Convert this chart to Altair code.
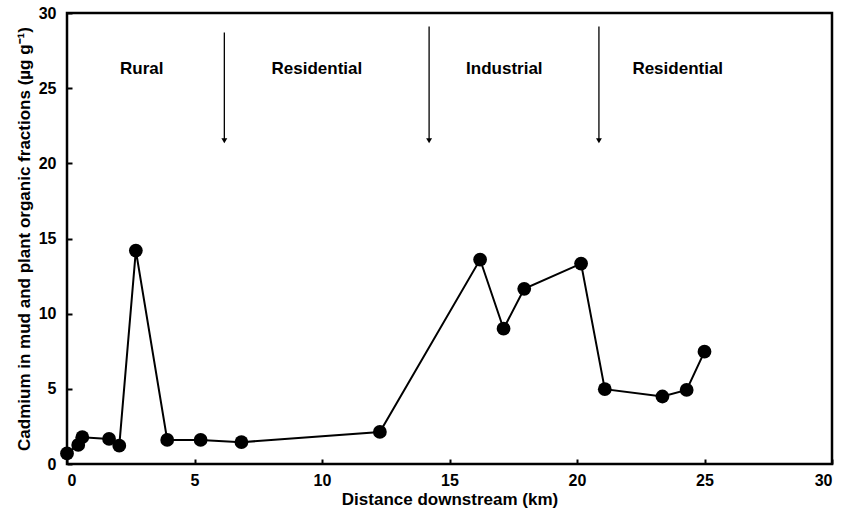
import altair as alt
import pandas as pd

distance_km = [0.0, 0.44, 0.6, 1.65, 2.05, 2.7, 3.93, 5.24, 6.84, 12.27,
               16.2, 17.12, 17.93, 20.16, 21.09, 23.35, 24.3, 25.0]
cadmium = [0.7, 1.27, 1.78, 1.67, 1.22, 14.2, 1.6, 1.6, 1.45, 2.13,
           13.6, 9.0, 11.65, 13.33, 4.98, 4.49, 4.93, 7.47]

zone_labels = ["Rural", "Residential", "Industrial", "Residential"]
zone_x = [2.93, 9.8, 17.15, 23.95]
zone_y = [26.3, 26.3, 26.3, 26.3]

arrow_x = [6.17, 14.2, 20.86]
arrow_top = [28.7, 29.1, 29.1]
arrow_bottom = [21.5, 21.5, 21.5]

FONT = "Liberation Sans"

df = pd.DataFrame({"d": distance_km, "c": cadmium, "order": list(range(len(distance_km)))})
zones = pd.DataFrame({"label": zone_labels, "x": zone_x, "y": zone_y})
arrows = pd.DataFrame({"x": arrow_x, "top": arrow_top, "bottom": arrow_bottom})

xscale = alt.Scale(domain=[0, 30], nice=False, zero=False)
yscale = alt.Scale(domain=[0, 30], nice=False, zero=False)

xaxis = alt.Axis(values=[0, 5, 10, 15, 20, 25, 30], format="d", grid=False, domain=False,
                 offset=-5, tickSize=5, tickWidth=2, tickColor="black",
                 labelPadding=8, labelFont=FONT, labelFontWeight="bold", labelFontSize=16,
                 labelColor="black", title="Distance downstream (km)", titleFont=FONT,
                 titleFontWeight="bold", titleFontSize=17, titleColor="black", titlePadding=3)
yaxis = alt.Axis(values=[0, 5, 10, 15, 20, 25, 30], format="d", grid=False, domain=False,
                 offset=-5, tickSize=5, tickWidth=2, tickColor="black",
                 labelPadding=11, labelFont=FONT, labelFontWeight="bold", labelFontSize=16,
                 labelColor="black",
                 title="Cadmium in mud and plant organic fractions (\u00b5g g\u207b\u00b9)",
                 titleFont=FONT, titleFontWeight="bold", titleFontSize=17, titleColor="black",
                 titlePadding=5)

base = alt.Chart(df)
line = base.mark_line(color="black", strokeWidth=2).encode(
    x=alt.X("d:Q", scale=xscale, axis=xaxis),
    y=alt.Y("c:Q", scale=yscale, axis=yaxis),
    order="order:Q",
)
pts = base.mark_point(filled=True, color="black", size=190, opacity=1).encode(
    x=alt.X("d:Q", scale=xscale), y=alt.Y("c:Q", scale=yscale)
)

arrow_lines = alt.Chart(arrows).mark_rule(color="black", strokeWidth=1.3).encode(
    x=alt.X("x:Q", scale=xscale), y=alt.Y("top:Q", scale=yscale), y2="bottom:Q"
)
arrow_heads = alt.Chart(arrows).mark_point(shape="triangle-down", filled=True, color="black",
                                            size=35, opacity=1).encode(
    x=alt.X("x:Q", scale=xscale), y=alt.Y("bottom:Q", scale=yscale)
)
labels = alt.Chart(zones).mark_text(font=FONT, fontWeight="bold", fontSize=17,
                                    color="black", align="center", baseline="middle").encode(
    x=alt.X("x:Q", scale=xscale), y=alt.Y("y:Q", scale=yscale), text="label:N"
)

chart = alt.layer(line, pts, arrow_lines, arrow_heads, labels).properties(
    width=765, height=451,
    autosize=alt.AutoSizeParams(type="none"),
    padding={"left": 67, "top": 13, "right": 27, "bottom": 51},
    background="white",
).configure_view(stroke="black", strokeWidth=2.5)

chart.save("out.html", embed_options={"renderer": "svg", "actions": False})
